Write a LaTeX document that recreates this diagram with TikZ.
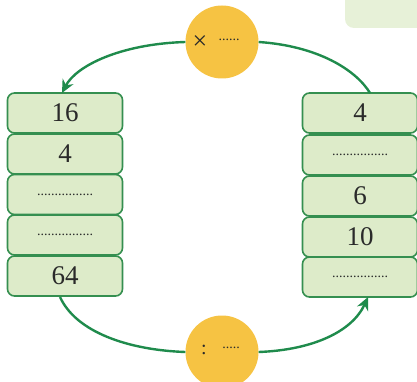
\documentclass[tikz,border=0pt]{standalone}
\usepackage{fontspec}
\setmainfont{Liberation Serif}
\usetikzlibrary{arrows.meta}
\definecolor{boxfill}{HTML}{DDEBC9}
\definecolor{boxline}{HTML}{358F50}
\definecolor{arrowgreen}{HTML}{1F8B4C}
\definecolor{circfill}{HTML}{F6C343}
\definecolor{notefill}{HTML}{E7F1D8}
\definecolor{txt}{HTML}{2A2A2A}
\tikzset{
  cell/.style={draw=boxline, fill=boxfill, line width=1.6pt, rounded corners=7pt,
    minimum width=115pt, minimum height=40pt, inner sep=0pt, text=txt,
    font=\fontsize{27}{27}\selectfont},
  opcirc/.style={circle, fill=circfill, minimum size=73pt, inner sep=0pt},
  flow/.style={draw=arrowgreen, line width=2.4pt, -{Stealth[length=13pt,width=12pt]}},
  flowplain/.style={draw=arrowgreen, line width=2.4pt},
}
\newcommand{\dotrow}{{\fontsize{14}{14}\selectfont ................}}
\begin{document}
\begin{tikzpicture}[x=1pt,y=-1pt]
\useasboundingbox (0,0) rectangle (417,382);
% note box top right
\fill[notefill, rounded corners=9pt] (345,-20) rectangle (440,28);
% left column
\node[cell] (l1) at (65,113) {16};
\node[cell] (l2) at (65,154) {4};
\node[cell] (l3) at (65,194.5) {\dotrow};
\node[cell] (l4) at (65,235) {\dotrow};
\node[cell] (l5) at (65,276) {64};
% right column
\node[cell] (r1) at (360,113) {4};
\node[cell] (r2) at (360,155) {\dotrow};
\node[cell] (r3) at (360,196) {6};
\node[cell] (r4) at (360,237) {10};
\node[cell] (r5) at (360,277) {\dotrow};
% circles
\node[opcirc] (top) at (222,42) {};
\node[font=\fontsize{26}{26}\selectfont, text=txt] (topx) at (200,43) {×};
\node[font=\fontsize{14}{14}\selectfont, text=txt] (topd) at (229,40) {......};
\node[opcirc] (bot) at (222,352) {};
\node[font=\fontsize{20}{20}\selectfont, text=txt] (botc) at (204,350) {:};
\node[font=\fontsize{14}{14}\selectfont, text=txt] (botd) at (231,348) {.....};
% connectors
\coordinate (ltop) at (62,93);
\coordinate (rtop) at (370,93);
\coordinate (lbot) at (60,297);
\coordinate (rbot) at (368,297);
\draw[flow] (top.west) .. controls (120,44) and (76,66) .. (ltop);
\draw[flowplain] (top.east) .. controls (318,46) and (356,70) .. (rtop);
\draw[flowplain] (lbot) .. controls (76,332) and (128,350) .. (bot.west);
\draw[flow] (bot.east) .. controls (312,350) and (352,332) .. (rbot);
\end{tikzpicture}
\end{document}
